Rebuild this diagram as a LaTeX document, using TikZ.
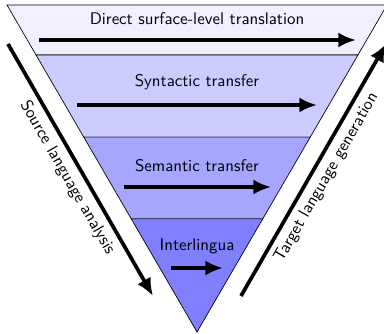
\documentclass[tikz,border=0pt]{standalone}
\usepackage{tikz}
\usetikzlibrary{arrows.meta, calc}

\begin{document}
\begin{tikzpicture}[x=0.593pt, y=-0.593pt,
    font=\sffamily,
    band/.style={draw=black, thin},
    level arrow/.style={-{Latex[length=10.5pt,width=9pt]}, line width=2.2pt},
    side arrow/.style={-{Latex[length=10.5pt,width=9pt]}, line width=2.2pt}]
  \useasboundingbox (0,0) rectangle (384,334);

  % Corners of the triangle
  \coordinate (tl) at (7,5);
  \coordinate (tr) at (387,5);
  \coordinate (bot) at (197,332);

  % Band limits on both edges
  \coordinate (l1) at ($(tl)!0.153!(bot)$);
  \coordinate (r1) at ($(tr)!0.153!(bot)$);
  \coordinate (l2) at ($(tl)!0.404!(bot)$);
  \coordinate (r2) at ($(tr)!0.404!(bot)$);
  \coordinate (l3) at ($(tl)!0.654!(bot)$);
  \coordinate (r3) at ($(tr)!0.654!(bot)$);

  % Bands
  \filldraw[band, fill=blue!6] (tl) -- (tr) -- (r1) -- (l1) -- cycle;
  \filldraw[band, fill=blue!20] (l1) -- (r1) -- (r2) -- (l2) -- cycle;
  \filldraw[band, fill=blue!35] (l2) -- (r2) -- (r3) -- (l3) -- cycle;
  \filldraw[band, fill=blue!50] (l3) -- (r3) -- (bot) -- cycle;

  % Labels of the levels
  \node[anchor=base] (direct) at (197,25) {Direct surface-level translation};
  \node[anchor=base] (syntax) at (197,87) {Syntactic transfer};
  \node[anchor=base] (semantic) at (197,172) {Semantic transfer};
  \node[anchor=base] (inter) at (197,250) {Interlingua};

  % Transfer arrows
  \coordinate (d1) at (39,40);
  \coordinate (d2) at (356,40);
  \coordinate (s1) at (77,105);
  \coordinate (s2) at (317,105);
  \coordinate (m1) at (124,187);
  \coordinate (m2) at (271,187);
  \coordinate (i1) at (171,268);
  \coordinate (i2) at (223,268);
  \draw[level arrow] (d1) -- (d2);
  \draw[level arrow] (s1) -- (s2);
  \draw[level arrow] (m1) -- (m2);
  \draw[level arrow] (i1) -- (i2);

  % Analysis and generation
  \coordinate (a1) at (8,44);
  \coordinate (a2) at (153,296);
  \coordinate (g1) at (241,296);
  \coordinate (g2) at (386,44);
  \draw[side arrow] (a1) -- (a2)
    node[midway, sloped, below] (analysis) {Source language analysis};
  \draw[side arrow] (g1) -- (g2)
    node[midway, sloped, below] (generation) {Target language generation};
\end{tikzpicture}
\end{document}
